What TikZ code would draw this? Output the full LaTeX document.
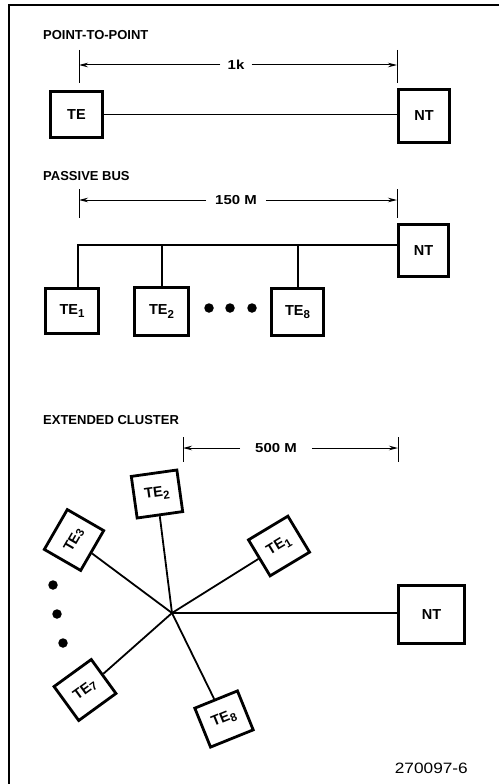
\documentclass[tikz,border=0pt]{standalone}
\usepackage{fontspec}
\setmainfont{Liberation Sans}
\newfontfamily\widefont{Liberation Sans}[FakeStretch=1.15]
\usetikzlibrary{arrows.meta}
\newcommand\titlef{\fontsize{13}{15}\selectfont\bfseries}
\newcommand\dimf{\widefont\fontsize{13}{15}\selectfont\bfseries}
\newcommand\boxf{\fontsize{14.5}{16}\selectfont\bfseries}
\newcommand\figf{\widefont\fontsize{15}{17}\selectfont}
\newcommand\subd[2][-3.5pt]{\raisebox{#1}{\fontsize{11.5}{12}\selectfont #2}}
\begin{document}
\begin{tikzpicture}[x=1pt,y=-1pt,
  frame/.style={line width=2pt},
  unit/.style={draw, line width=2.8pt, inner sep=0pt, font=\boxf},
  cl/.style={unit, minimum width=46pt, minimum height=42pt},
  wire/.style={line width=1.8pt},
  dimline/.style={line width=1pt, -{Stealth[length=9pt,width=4.5pt]}},
  tickline/.style={line width=1pt},
  title/.style={anchor=west, font=\titlef, inner sep=0pt},
  dimlabel/.style={font=\dimf, inner ysep=0pt},
  blob/.style={circle, fill, inner sep=0pt, minimum size=9.5pt}]
\useasboundingbox (0,0) rectangle (499,784);
\draw[frame] (499,5) -- (9,5) -- (9,784);

% ---------- point-to-point ----------
\node[title] (h1) at (43,35) {POINT-TO-POINT};
\node[dimlabel, inner xsep=7pt] (l1) at (236,65) {1k};
\coordinate (p1L) at (79,65);
\coordinate (p1R) at (397,65);
\draw[tickline] ([yshift=15pt]p1L) -- ([yshift=-18pt]p1L);
\draw[tickline] ([yshift=15pt]p1R) -- ([yshift=-18pt]p1R);
\draw[dimline] (l1.west) -- (p1L);
\draw[dimline] (l1.east) -- (p1R);
\node[unit, minimum width=52pt, minimum height=46pt] (te) at (76.5,114.5) {TE};
\node[unit, minimum width=51pt, minimum height=53pt] (nt1) at (424,116) {NT};
\draw[wire] (te.east) -- (te.east -| nt1.west);

% ---------- passive bus ----------
\node[title] (h2) at (43,176) {PASSIVE BUS};
\node[dimlabel, inner xsep=9pt] (l2) at (236,200) {150 M};
\coordinate (p2L) at (79,200);
\coordinate (p2R) at (397,200);
\draw[tickline] ([yshift=11pt]p2L) -- ([yshift=-18pt]p2L);
\draw[tickline] ([yshift=11pt]p2R) -- ([yshift=-18pt]p2R);
\draw[dimline] (l2.west) -- (p2L);
\draw[dimline] (l2.east) -- (p2R);
\node[unit, minimum width=50pt, minimum height=52pt] (nt2) at (423.5,250.5) {NT};
\node[unit, minimum width=53pt, minimum height=45pt] (te1) at (72,311) {TE\subd{1}};
\node[unit, minimum width=54pt, minimum height=48pt] (te2) at (161.5,311.5) {TE\subd{2}};
\node[unit, minimum width=52pt, minimum height=47pt] (te8) at (297.5,312) {TE\subd{8}};
\coordinate (b1) at (78,245);
\coordinate (b2) at (162,245);
\coordinate (b3) at (298,245);
\draw[wire] (te1.north -| b1) -- (b1) -- (b1 -| nt2.west);
\draw[wire] (te2.north -| b2) -- (b2);
\draw[wire] (te8.north -| b3) -- (b3);
\node[blob] (dA) at (209,308) {};
\node[blob] (dB) at (230,308) {};
\node[blob] (dC) at (252,308) {};

% ---------- extended cluster ----------
\node[title] (h3) at (43,420) {EXTENDED CLUSTER};
\node[dimlabel, inner xsep=15pt] (l3) at (276,448) {500 M};
\coordinate (p3L) at (183,448);
\coordinate (p3R) at (398,448);
\draw[tickline] ([yshift=11pt]p3L) -- ([yshift=-14pt]p3L);
\draw[tickline] ([yshift=11pt]p3R) -- ([yshift=-14pt]p3R);
\draw[dimline] (l3.west) -- (p3L);
\draw[dimline] (l3.east) -- (p3R);
\coordinate (hub) at (172,613);
\node[unit, minimum width=66pt, minimum height=58pt] (nt3) at (431.5,614.5) {NT};
\node[cl, rotate=8] (c2) at (157,494) {TE\subd{2}};
\node[cl, rotate=60] (c3) at (74,540) {TE\subd[-1.5pt]{3}};
\node[cl, rotate=31] (c1) at (279,546) {TE\subd{1}};
\node[cl, rotate=36] (c7) at (85,690) {TE\subd[-1.5pt]{7}};
\node[cl, rotate=22] (c8) at (224,719) {TE\subd{8}};
\draw[wire] (hub) -- (hub -| nt3.west);
\draw[wire] (hub) -- (c1);
\draw[wire] (hub) -- (c2);
\draw[wire] (hub) -- (c3);
\draw[wire] (hub) -- (c7);
\draw[wire] (hub) -- (c8);
\node[blob] (eA) at (53,585) {};
\node[blob] (eB) at (57,614) {};
\node[blob] (eC) at (63,643) {};

\node[anchor=east, font=\figf, inner sep=0pt] (fig) at (468,768) {270097-6};
\end{tikzpicture}
\end{document}
